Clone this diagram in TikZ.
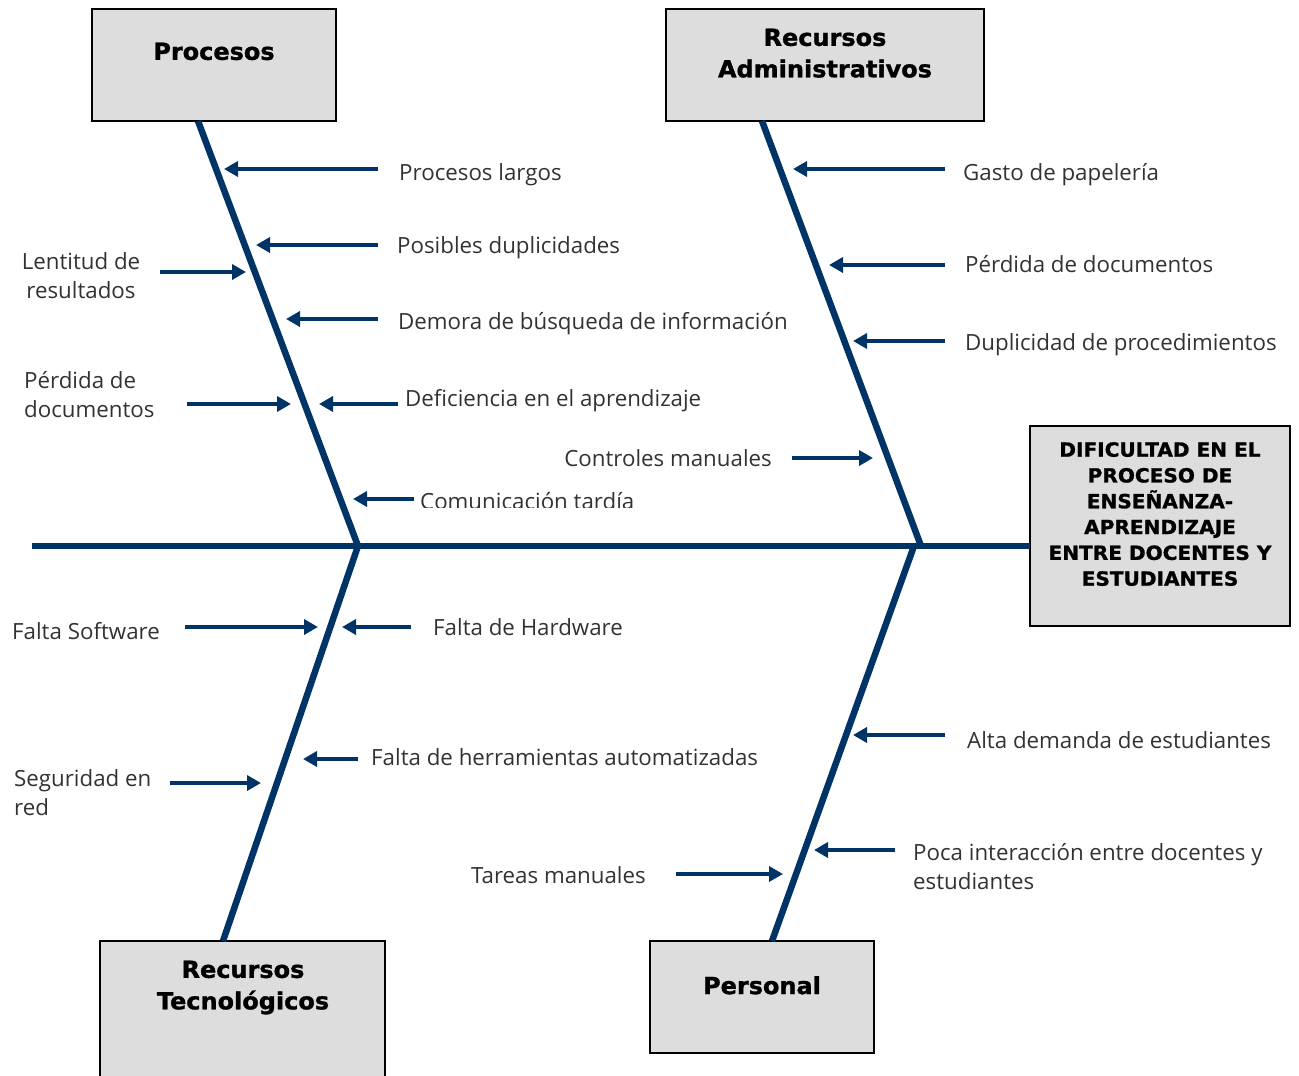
\documentclass[tikz,border=0pt]{standalone}
\usepackage{fontspec}
\setmainfont{Open Sans}
\newfontfamily\headfont{DejaVu Sans Bold}[FakeBold=1.2, FakeStretch=1.02]
\newfontfamily\efffont{DejaVu Sans Bold}[FakeBold=1.2, FakeStretch=1.03]
\usetikzlibrary{arrows.meta}
\definecolor{bone}{RGB}{0,51,102}
\definecolor{boxfill}{RGB}{221,221,221}
\definecolor{txt}{RGB}{50,50,50}
\tikzset{
  catbox/.style={draw=black, line width=1.8pt, fill=boxfill, inner sep=0},
  cattext/.style={font=\headfont\fontsize{23.5}{31.5}\selectfont, align=center, inner sep=0, anchor=north},
  efftext/.style={font=\efffont\fontsize{19.5}{25.8}\selectfont, align=center, inner sep=0, anchor=north},
  bonestyle/.style={draw=bone, line width=6.5pt},
  cause/.style={draw=bone, line width=3.5pt, -{Triangle[length=14pt,width=15pt]}},
  lbl/.style={font=\fontsize{22.3}{29.5}\selectfont, text=txt, inner sep=0},
}
\begin{document}
\begin{tikzpicture}[x=1pt,y=-1pt]
\useasboundingbox (0,0) rectangle (1299,1076);

% category boxes
\node[catbox, minimum width=244, minimum height=112] (procbox) at (214,65) {};
\node[catbox, minimum width=318, minimum height=112] (admbox) at (825,65) {};
\node[catbox, minimum width=285, minimum height=150] (tecbox) at (242.5,1016) {};
\node[catbox, minimum width=224, minimum height=112] (perbox) at (762,997) {};
\node[catbox, minimum width=260, minimum height=200] (effbox) at (1160,526) {};

\node[cattext] (proct) at (214,42.5) {Procesos};
\node[cattext] (admt) at (825,28.5) {Recursos\\Administrativos};
\node[cattext] (tect) at (243,960.5) {Recursos\\Tecnológicos};
\node[cattext] (pert) at (762,976) {Personal};
\node[efftext] (efft) at (1160,442) {DIFICULTAD EN EL\\PROCESO DE\\ENSEÑANZA-\\APRENDIZAJE\\ENTRE DOCENTES Y\\ESTUDIANTES};

% spine and bones
\coordinate (tail) at (32,546);
\coordinate (head) at (1030,546);
\coordinate (j1) at (358,546);
\coordinate (j2) at (921,546);
\coordinate (j3) at (914,546);
\coordinate (bp) at (198,121);
\coordinate (ba) at (762,121);
\coordinate (bt) at (223,941);
\coordinate (bs) at (772,941);
\draw[bonestyle] (tail) -- (head);
\draw[bonestyle] (bp) -- (j1);
\draw[bonestyle] (ba) -- (j2);
\draw[bonestyle] (j1) -- (bt);
\draw[bonestyle] (j3) -- (bs);

% causes: Procesos
\coordinate (c1s) at (378,169); \coordinate (c1e) at (224,169);
\coordinate (c2s) at (378,245); \coordinate (c2e) at (256,245);
\coordinate (c3s) at (160,272); \coordinate (c3e) at (246,272);
\coordinate (c4s) at (378,319); \coordinate (c4e) at (286,319);
\coordinate (c5s) at (187,404); \coordinate (c5e) at (291,404);
\coordinate (c6s) at (398,404); \coordinate (c6e) at (319,404);
\coordinate (c7s) at (414,499); \coordinate (c7e) at (353,499);
\foreach \i in {1,...,7} \draw[cause] (c\i s) -- (c\i e);
\node[lbl, anchor=base west] (l1) at (399,180) {Procesos largos};
\node[lbl, anchor=base west] (l2) at (397,253) {Posibles duplicidades};
\node[lbl, anchor=north, align=center] (l3) at (81,252) {Lentitud de\\resultados};
\node[lbl, anchor=base west] (l4) at (398,329) {Demora de búsqueda de información};
\node[lbl, anchor=north west, align=left] (l5) at (24,371) {Pérdida de\\documentos};
\node[lbl, anchor=base west] (l6) at (405,406) {Deficiencia en el aprendizaje};
\begin{scope}
  \clip (410,480) rectangle (700,507);
  \node[lbl, anchor=base west] (l7) at (420,509) {Comunicación tardía};
\end{scope}

% causes: Recursos Administrativos
\coordinate (d1s) at (945,169); \coordinate (d1e) at (793,169);
\coordinate (d2s) at (945,265); \coordinate (d2e) at (829,265);
\coordinate (d3s) at (945,341); \coordinate (d3e) at (853,341);
\coordinate (d4s) at (792,458); \coordinate (d4e) at (873,458);
\foreach \i in {1,...,4} \draw[cause] (d\i s) -- (d\i e);
\node[lbl, anchor=base west] (m1) at (963,180) {Gasto de papelería};
\node[lbl, anchor=base west] (m2) at (965,272) {Pérdida de documentos};
\node[lbl, anchor=base west] (m3) at (965,350) {Duplicidad de procedimientos};
\node[lbl, anchor=base east] (m4) at (772,466) {Controles manuales};

% causes: Recursos Tecnológicos
\coordinate (e1s) at (185,627); \coordinate (e1e) at (318,627);
\coordinate (e2s) at (411,627); \coordinate (e2e) at (342,627);
\coordinate (e3s) at (358,759); \coordinate (e3e) at (303,759);
\coordinate (e4s) at (170,783); \coordinate (e4e) at (261,783);
\foreach \i in {1,...,4} \draw[cause] (e\i s) -- (e\i e);
\node[lbl, anchor=base west] (n1) at (12,639) {Falta Software};
\node[lbl, anchor=base west] (n2) at (433,635) {Falta de Hardware};
\node[lbl, anchor=base west] (n3) at (371,765) {Falta de herramientas automatizadas};
\node[lbl, anchor=north west, align=left] (n4) at (14,769) {Seguridad en\\red};

% causes: Personal
\coordinate (f1s) at (945,735); \coordinate (f1e) at (853,735);
\coordinate (f2s) at (895,850); \coordinate (f2e) at (814,850);
\coordinate (f3s) at (676,874); \coordinate (f3e) at (783,874);
\foreach \i in {1,...,3} \draw[cause] (f\i s) -- (f\i e);
\node[lbl, anchor=base west] (o1) at (967,748) {Alta demanda de estudiantes};
\node[lbl, anchor=north west, align=left] (o2) at (913,843) {Poca interacción entre docentes y\\estudiantes};
\node[lbl, anchor=base east] (o3) at (646,883) {Tareas manuales};
\end{tikzpicture}
\end{document}
